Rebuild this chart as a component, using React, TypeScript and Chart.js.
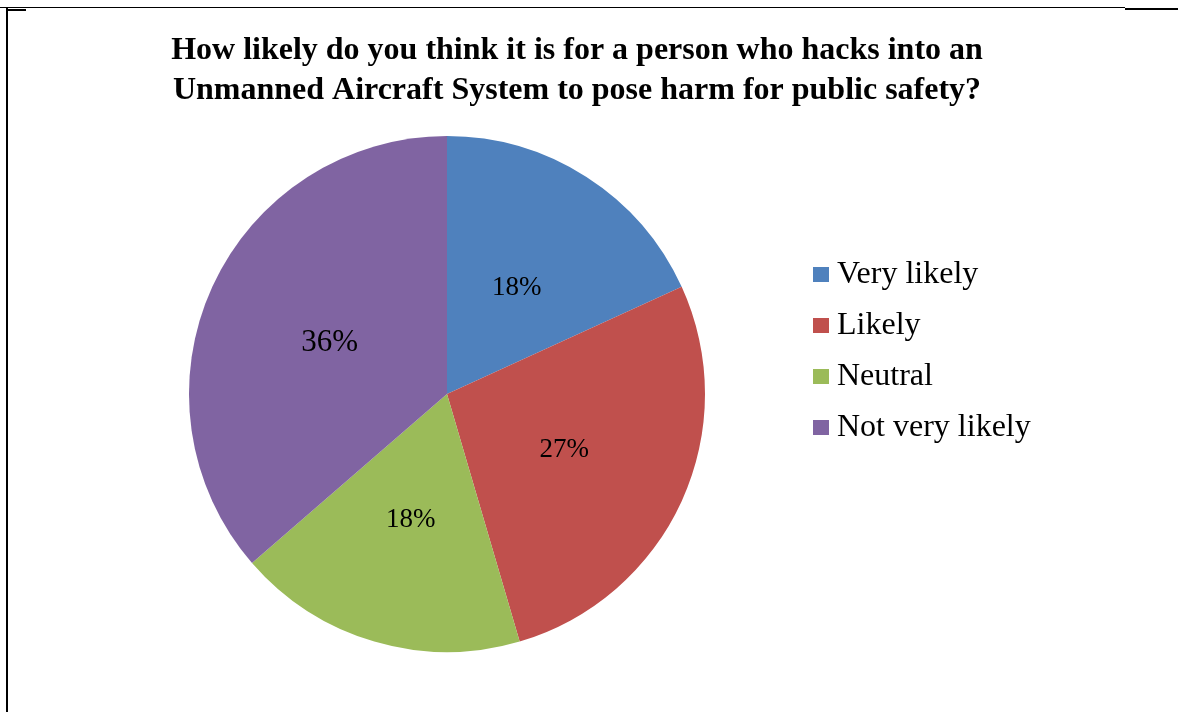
import React, { useEffect, useRef } from "react";
import { Chart, registerables } from "chart.js";

Chart.register(...registerables);

const TITLE_LINES = [
  "How likely do you think it is for a person who hacks into an",
  "Unmanned Aircraft System to pose harm for public safety?",
];
const CATEGORIES = ["Very likely", "Likely", "Neutral", "Not very likely"];
const PERCENTS = [18, 27, 18, 36];
const COLORS = ["#4F81BD", "#C0504D", "#9BBB59", "#8064A2"];

const W = 1178;
const H = 712;

const overlayPlugin = {
  id: "overlay",
  afterDatasetsDraw(chart: any) {
    const ctx = chart.ctx as CanvasRenderingContext2D;
    ctx.save();
    // title
    ctx.fillStyle = "#000";
    ctx.textAlign = "center";
    ctx.textBaseline = "alphabetic";
    ctx.font = "bold 32px 'Liberation Serif', 'Times New Roman', serif";
    ctx.fillText(TITLE_LINES[0], 577, 59);
    ctx.fillText(TITLE_LINES[1], 577, 99);

    // data labels
    const meta = chart.getDatasetMeta(0);
    const values = chart.data.datasets[0].data as number[];
    meta.data.forEach((arc: any, i: number) => {
      const p = arc.tooltipPosition();
      const big = values[i] >= 30;
      ctx.font = (big ? "31px" : "27px") + " 'Liberation Serif', 'Times New Roman', serif";
      ctx.textAlign = "center";
      ctx.textBaseline = "middle";
      ctx.fillStyle = "#000";
      ctx.fillText(values[i] + "%", p.x, p.y + 2);
    });

    // legend
    const labels = chart.data.labels as string[];
    const colors = chart.data.datasets[0].backgroundColor as string[];
    labels.forEach((lab, i) => {
      const cy = 275 + i * 51;
      ctx.fillStyle = colors[i];
      ctx.fillRect(813, cy - 8, 16, 15);
      ctx.fillStyle = "#000";
      ctx.font = "32px 'Liberation Serif', 'Times New Roman', serif";
      ctx.textAlign = "left";
      ctx.textBaseline = "middle";
      ctx.fillText(lab, 837, cy);
    });
    ctx.restore();
  },
};

export default function App() {
  const ref = useRef<HTMLCanvasElement>(null);
  useEffect(() => {
    if (!ref.current) return;
    const chart = new Chart(ref.current, {
      type: "pie",
      data: {
        labels: CATEGORIES,
        datasets: [
          {
            data: PERCENTS,
            backgroundColor: COLORS,
            borderWidth: 0,
          },
        ],
      },
      options: {
        responsive: false,
        animation: false,
        layout: { padding: { left: 189, right: 473, top: 136, bottom: 60 } },
        plugins: {
          legend: { display: false },
          title: { display: false },
          tooltip: { enabled: false },
        },
      },
      plugins: [overlayPlugin],
    });
    return () => chart.destroy();
  }, []);

  return (
    <div style={{ position: "fixed", left: 0, top: 0, width: W, height: H, background: "#fff" }}>
      <canvas ref={ref} width={W} height={H} style={{ position: "absolute", left: 0, top: 0, width: W, height: H }} />
      <div style={{ position: "absolute", left: 0, top: 7, width: 1125, height: 1, background: "#000" }} />
      <div style={{ position: "absolute", left: 1125, top: 8, width: 53, height: 2, background: "#000" }} />
      <div style={{ position: "absolute", left: 8, top: 9, width: 18, height: 2, background: "#000" }} />
      <div style={{ position: "absolute", left: 6, top: 8, width: 2, height: H - 8, background: "#000" }} />
    </div>
  );
}
